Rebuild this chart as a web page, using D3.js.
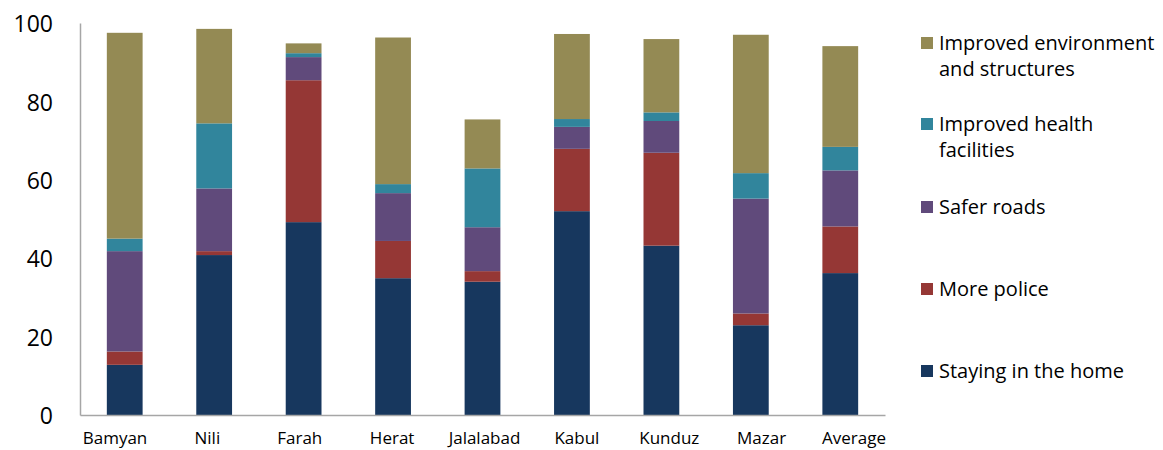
<!DOCTYPE html>
<html>
<head>
<meta charset="utf-8">
<script src="https://cdn.jsdelivr.net/npm/d3@7"></script>
<style>
  body { margin: 0; background: #fff; }
  svg { display: block; font-family: "Open Sans", sans-serif; }
</style>
</head>
<body>
<svg id="chart" width="1163" height="450"></svg>
<script>
// =========
// Data
// =========

var categories = ['Bamyan', 'Nili', 'Farah', 'Herat', 'Jalalabad', 'Kabul', 'Kunduz', 'Mazar', 'Average'];

var series_names = ['Staying in the home', 'More police', 'Safer roads', 'Improved health facilities', 'Improved environment and structures'];

var staying_home = [12.8, 40.8, 49.2, 34.9, 34.0, 52.0, 43.2, 22.9, 36.2];
var more_police  = [3.4, 1.0, 36.2, 9.5, 2.7, 15.9, 23.7, 3.0, 11.9];
var safer_roads  = [25.6, 16.0, 5.9, 12.2, 11.2, 5.6, 8.1, 29.3, 14.3];
var health       = [3.2, 16.6, 1.0, 2.3, 15.0, 2.0, 2.2, 6.5, 6.0];
var environment  = [52.5, 24.1, 2.5, 37.4, 12.5, 21.7, 18.7, 35.3, 25.7];

var y_ticks = [0, 20, 40, 60, 80, 100];

var colors = ['#17375E', '#953735', '#604A7B', '#31859C', '#948A54'];

// =========
// Chart
// =========

var svg = d3.select('#chart');
var padding = {top: 23, left: 80, right: 278, bottom: 35};
var width = 1163, height = 450;
var font = '"Open Sans", sans-serif';

var series_values = [staying_home, more_police, safer_roads, health, environment];
var rows = categories.map(function(c, i){
    var row = {category: c};
    series_names.forEach(function(s, j){ row[s] = series_values[j][i]; });
    return row;
});

var stack = d3.stack().keys(series_names)(rows);

var x_scale = d3.scaleBand()
    .domain(categories)
    .range([padding.left, width - padding.right])
    .paddingInner(0.6)
    .paddingOuter(0.3);

// the category labels sit on a slightly wider spacing than the bars
var label_scale = d3.scalePoint()
    .domain(categories)
    .range([114.5, 853.5]);

var y_scale = d3.scaleLinear()
    .domain([0, 100])
    .range([height - padding.bottom, padding.top]);

svg.append('g')
    .selectAll('g')
    .data(stack)
    .enter()
    .append('g')
    .attr('fill', function(d, i){ return colors[i]; })
    .selectAll('rect')
    .data(function(d){ return d; })
    .enter()
    .append('rect')
    .attr('x', function(d){ return x_scale(d.data.category); })
    .attr('width', x_scale.bandwidth())
    .attr('y', function(d){ return y_scale(d[1]); })
    .attr('height', function(d){ return y_scale(d[0]) - y_scale(d[1]); });

// y axis
var y_axis = svg.append('g')
    .attr('transform', 'translate(' + padding.left + ',0)')
    .call(d3.axisLeft(y_scale).tickValues(y_ticks).tickSize(0).tickPadding(27));
y_axis.select('.domain').attr('stroke', '#a6a6a6').attr('stroke-width', 1.5);
y_axis.selectAll('text')
    .attr('dy', '0.38em')
    .attr('font-size', 23)
    .attr('font-family', font)
    .attr('fill', '#000');

// x axis line
var x_axis = svg.append('g')
    .attr('transform', 'translate(0,' + (height - padding.bottom) + ')')
    .call(d3.axisBottom(x_scale).tickSize(0).tickFormat(''));
x_axis.select('.domain').attr('stroke', '#a6a6a6').attr('stroke-width', 1.5);

// x labels
var x_labels = svg.append('g')
    .attr('transform', 'translate(0,' + (height - padding.bottom) + ')')
    .call(d3.axisBottom(label_scale).tickSize(0).tickPadding(17));
x_labels.select('.domain').remove();
x_labels.selectAll('text')
    .attr('font-size', 17)
    .attr('font-family', font)
    .attr('fill', '#000');

// legend
var legend_items = [
    {i: 4, lines: ['Improved environment', 'and structures'], y: 43},
    {i: 3, lines: ['Improved health', 'facilities'], y: 124},
    {i: 2, lines: ['Safer roads'], y: 207},
    {i: 1, lines: ['More police'], y: 289},
    {i: 0, lines: ['Staying in the home'], y: 371}
];

var legend = svg.append('g').attr('transform', 'translate(921,0)');
legend_items.forEach(function(item){
    legend.append('rect')
        .attr('x', 0)
        .attr('y', item.y - 6)
        .attr('width', 12)
        .attr('height', 12)
        .attr('fill', colors[item.i]);
    item.lines.forEach(function(line, k){
        legend.append('text')
            .attr('x', 18)
            .attr('y', item.y + k * 26)
            .attr('dy', '0.35em')
            .attr('font-size', 20)
            .attr('font-family', font)
            .attr('fill', '#000')
            .text(line);
    });
});
</script>
</body>
</html>
